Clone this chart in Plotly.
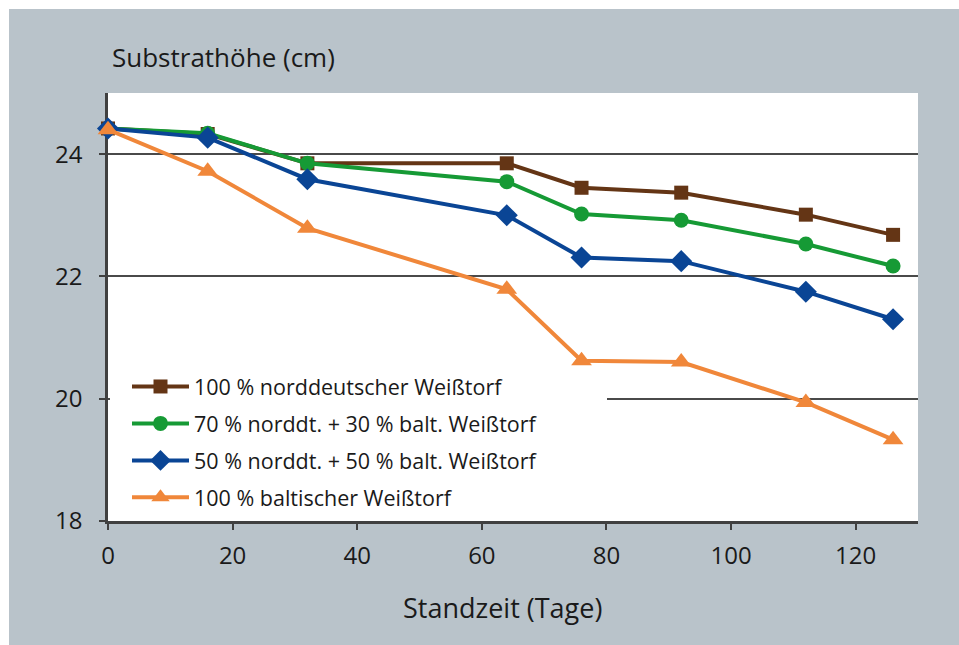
import plotly.graph_objects as go

days = [0, 16, 32, 64, 76, 92, 112, 126]
names = [
    "100 % norddeutscher Weißtorf",
    "70 % norddt. + 30 % balt. Weißtorf",
    "50 % norddt. + 50 % balt. Weißtorf",
    "100 % baltischer Weißtorf",
]
nord100 = [24.42, 24.33, 23.85, 23.85, 23.45, 23.37, 23.01, 22.68]
nord70 = [24.42, 24.34, 23.85, 23.55, 23.02, 22.92, 22.53, 22.17]
nord50 = [24.42, 24.27, 23.59, 23.00, 22.31, 22.25, 21.75, 21.30]
balt100 = [24.40, 23.72, 22.79, 21.79, 20.62, 20.60, 19.94, 19.33]
x_ticks = [0, 20, 40, 60, 80, 100, 120]
y_ticks = [18, 20, 22, 24]
x_range = [0, 130]
y_range = [18, 25]

series = [nord100, nord70, nord50, balt100]
colors = ["#643515", "#169a35", "#0a4595", "#f0873a"]
symbols = ["square", "circle", "diamond", "triangle-up"]
msizes = [14, 15, 17, 18]

FONT = "Open Sans"
TXT = "#1a1a1a"
W, H = 959, 645
L, R, T, B = 108, 41, 93, 124
pw, ph = W - L - R, H - T - B

fig = go.Figure()
for i, (vals, nm) in enumerate(zip(series, names)):
    fig.add_trace(go.Scatter(
        x=days, y=vals, name=nm, mode="lines+markers",
        line=dict(color=colors[i], width=4),
        marker=dict(symbol=symbols[i], size=msizes[i], color=colors[i]),
        legendgroup="g%d" % i, cliponaxis=False,
    ))

def px_x(p):
    return (p - L) / pw

def px_y(p):
    return (H - B - p) / ph

def dx(p):
    return x_range[0] + px_x(p) * (x_range[1] - x_range[0])

def dy(p):
    return y_range[0] + px_y(p) * (y_range[1] - y_range[0])

shapes = [
    # white page border (top / left)
    dict(type="rect", xref="paper", yref="paper", x0=px_x(-5), x1=px_x(W + 5),
         y0=px_y(9), y1=px_y(-5), fillcolor="white", line_width=0, layer="above"),
    dict(type="rect", xref="paper", yref="paper", x0=px_x(-5), x1=px_x(9),
         y0=px_y(H + 5), y1=px_y(-5), fillcolor="white", line_width=0, layer="above"),
    # legend background box hiding the gridline
    dict(type="rect", xref="x", yref="y", x0=dx(110), x1=dx(607),
         y0=dy(519), y1=dy(369), fillcolor="white", line_width=0, layer="between"),
]

fig.update_layout(
    width=W, height=H,
    margin=dict(l=L, r=R, t=T, b=B, autoexpand=False),
    paper_bgcolor="#b9c3ca",
    plot_bgcolor="white",
    font=dict(family=FONT, size=22, color=TXT),
    showlegend=True,
    legend=dict(
        x=px_x(127), y=px_y(366), xanchor="left", yanchor="top",
        bgcolor="rgba(0,0,0,0)", font=dict(family=FONT, size=21.5, color=TXT),
        tracegroupgap=6, itemwidth=57,
    ),
    xaxis=dict(
        range=x_range, tickvals=x_ticks, showgrid=False, zeroline=False,
        showline=True, linecolor="#404040", linewidth=2.5, layer="below traces",
        ticks="outside", ticklen=6, tickwidth=2, tickcolor="#404040",
        tickfont=dict(family=FONT, size=24, color=TXT),
        ticklabelstandoff=5,
    ),
    yaxis=dict(
        range=y_range, tickvals=y_ticks, showgrid=True, gridcolor="#4a4a4a",
        gridwidth=2, zeroline=False, layer="below traces",
        showline=True, linecolor="#404040", linewidth=2.5,
        ticks="outside", ticklen=6, tickwidth=2, tickcolor="#404040",
        tickfont=dict(family=FONT, size=24, color=TXT),
        ticklabelstandoff=12,
    ),
    shapes=shapes,
    annotations=[
        dict(text="Substrathöhe (cm)", xref="paper", yref="paper",
             x=px_x(110), y=px_y(57), xanchor="left", yanchor="middle",
             showarrow=False, font=dict(family=FONT, size=26, color=TXT)),
        dict(text="Standzeit (Tage)", xref="paper", yref="paper",
             x=px_x(502), y=px_y(607), xanchor="center", yanchor="middle",
             showarrow=False, font=dict(family=FONT, size=27, color=TXT)),
    ],
)

fig.write_html(
    "out.html",
    config={"displayModeBar": False},
    post_script="document.body.style.margin='0';"
                "document.documentElement.style.overflow='hidden';"
                "document.body.style.overflow='hidden';",
)
